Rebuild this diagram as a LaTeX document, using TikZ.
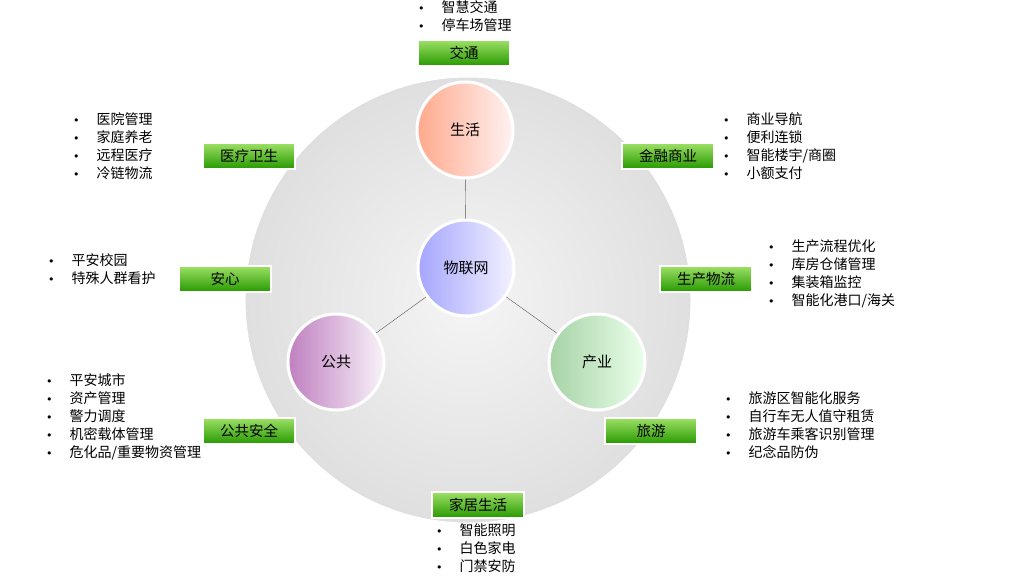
\documentclass[tikz,border=0pt]{standalone}
\usepackage{fontspec}
\setmainfont{Noto Sans CJK SC}
\newfontfamily\dvs{DejaVu Sans}
\newcommand{\bu}{{\dvs\fontsize{11}{18}\selectfont•}\hspace{17pt}}
\begin{document}
\begin{tikzpicture}[x=1pt,y=-1pt,
  gbox/.style={draw=white,line width=1.2pt,top color=green!40!lime!80!black!60,bottom color=green!50!black!80!lime,minimum width=92pt,minimum height=26pt,font=\fontsize{14.5}{16}\selectfont,inner sep=0pt},
  ball/.style={circle,draw=white,line width=3pt,minimum size=96pt,font=\fontsize{15}{16}\selectfont,inner sep=0pt},
  lst/.style={anchor=north west,align=left,font=\fontsize{14}{18}\selectfont,inner sep=0pt}]
\useasboundingbox (0,0) rectangle (1024,576);
\fill[white] (0,0) rectangle (1024,576);
\node[circle,minimum size=446pt,draw=white,line width=1pt,inner color=gray!8,outer color=gray!25] (big) at (468,300) {};
\node[ball,left color=orange!50!red!45,right color=red!5] (sh) at (465,130) {生活};
\node[ball,left color=blue!35,right color=blue!5] (wl) at (466,268) {物联网};
\node[ball,left color=violet!50,right color=violet!5] (gg) at (336,362) {公共};
\node[ball,left color=green!50!black!35,right color=green!8] (cy) at (597,362) {产业};
\draw[gray!70!black] (wl) -- (sh);
\draw[gray!70!black] (wl) -- (gg);
\draw[gray!70!black] (wl) -- (cy);
\node[gbox] (jt) at (464,53) {交通};
\node[gbox] (yl) at (249,156) {医疗卫生};
\node[gbox] (jr) at (668,156) {金融商业};
\node[gbox] (ax) at (225,279) {安心};
\node[gbox] (sc) at (706,279) {生产物流};
\node[gbox] (ga) at (249,431) {公共安全};
\node[gbox] (ly) at (651,431) {旅游};
\node[gbox] (jj) at (478,505) {家居生活};
\node[lst] (l1) at (418,0) {\bu 智慧交通\\\bu 停车场管理};
\node[lst] (l2) at (73,112) {\bu 医院管理\\\bu 家庭养老\\\bu 远程医疗\\\bu 冷链物流};
\node[lst] (l3) at (723,112) {\bu 商业导航\\\bu 便利连锁\\\bu 智能楼宇/商圈\\\bu 小额支付};
\node[lst] (l4) at (48,253) {\bu 平安校园\\\bu 特殊人群看护};
\node[lst] (l5) at (768,240) {\bu 生产流程优化\\\bu 库房仓储管理\\\bu 集装箱监控\\\bu 智能化港口/海关};
\node[lst] (l6) at (46,373) {\bu 平安城市\\\bu 资产管理\\\bu 警力调度\\\bu 机密载体管理\\\bu 危化品/重要物资管理};
\node[lst] (l7) at (725,391) {\bu 旅游区智能化服务\\\bu 自行车无人值守租赁\\\bu 旅游车乘客识别管理\\\bu 纪念品防伪};
\node[lst] (l8) at (436,523) {\bu 智能照明\\\bu 白色家电\\\bu 门禁安防};
\end{tikzpicture}
\end{document}
